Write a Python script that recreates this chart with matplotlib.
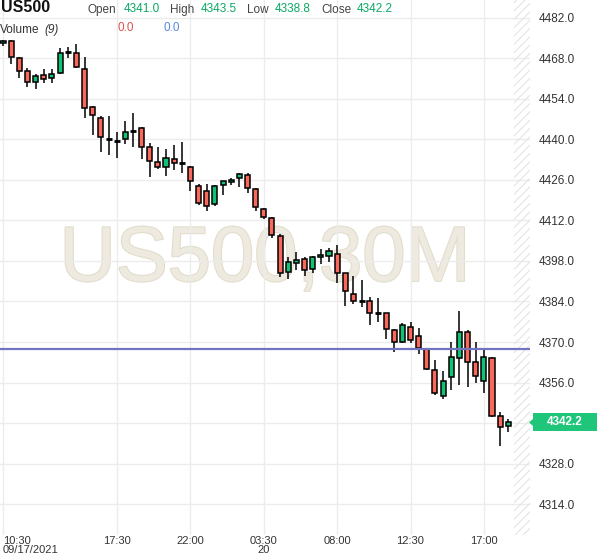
import matplotlib.pyplot as plt
import matplotlib.patheffects as pe
from matplotlib.patches import Rectangle, Polygon

plt.rcParams['font.family'] = ['Liberation Sans', 'DejaVu Sans']
plt.rcParams['hatch.linewidth'] = 0.8

# 30 minute candles, US500
opens = [4473.3, 4474.0, 4468.1, 4463.7, 4460.0, 4462.2, 4461.2, 4462.8, 4470.2, 4469.8,
         4464.3, 4451.2, 4447.3, 4440.3, 4439.6, 4440.1, 4442.9, 4443.9, 4437.3, 4432.1,
         4430.4, 4433.2, 4431.8, 4430.4, 4423.8, 4422.1, 4417.6, 4424.2, 4425.2, 4426.6,
         4427.6, 4422.8, 4415.9, 4412.8, 4406.5, 4394.1, 4397.2, 4398.6, 4395.1, 4399.3,
         4399.6, 4400.3, 4393.8, 4386.5, 4384.3, 4384.1, 4380.1, 4379.9, 4374.0, 4369.9,
         4375.1, 4372.0, 4367.5, 4360.2, 4351.2, 4357.8, 4364.4, 4373.3, 4363.0, 4356.4,
         4364.4, 4344.3, 4341.0]
highs = [4474.4, 4474.3, 4468.6, 4464.8, 4462.5, 4464.3, 4464.4, 4471.5, 4471.8, 4472.9,
         4468.6, 4451.6, 4448.1, 4448.1, 4442.5, 4446.4, 4449.0, 4444.2, 4438.7, 4437.3,
         4436.6, 4438.0, 4439.0, 4430.9, 4424.5, 4424.5, 4424.2, 4425.8, 4426.6, 4428.3,
         4428.3, 4423.1, 4416.2, 4413.1, 4407.2, 4399.3, 4401.0, 4399.3, 4399.6, 4402.0,
         4402.4, 4403.4, 4394.0, 4392.7, 4391.3, 4385.4, 4385.1, 4380.0, 4374.4, 4376.5,
         4376.8, 4374.7, 4367.6, 4363.7, 4359.9, 4369.9, 4380.6, 4374.0, 4369.9, 4367.5,
         4364.7, 4345.7, 4343.5]
lows = [4472.4, 4466.0, 4461.4, 4458.0, 4457.4, 4459.4, 4459.6, 4462.5, 4468.1, 4464.8,
        4447.3, 4441.5, 4435.8, 4434.6, 4433.5, 4438.3, 4437.3, 4433.2, 4426.9, 4429.7,
        4427.3, 4429.4, 4428.3, 4422.1, 4417.3, 4415.2, 4416.9, 4420.7, 4424.2, 4423.5,
        4421.4, 4415.2, 4412.4, 4405.8, 4392.4, 4391.7, 4394.8, 4392.7, 4393.8, 4396.9,
        4397.5, 4390.3, 4382.3, 4383.0, 4382.0, 4375.8, 4376.8, 4371.1, 4366.6, 4369.5,
        4369.5, 4365.7, 4360.2, 4351.6, 4350.2, 4353.3, 4355.0, 4354.5, 4355.7, 4352.3,
        4344.2, 4334.0, 4338.8]
closes = [4474.0, 4468.4, 4463.7, 4459.8, 4461.9, 4460.8, 4462.5, 4469.8, 4470.2, 4465.0,
          4450.9, 4448.4, 4440.8, 4440.3, 4439.6, 4442.5, 4442.9, 4437.3, 4432.5, 4430.4,
          4433.5, 4431.8, 4431.8, 4425.5, 4418.0, 4416.9, 4423.8, 4425.5, 4426.0, 4428.0,
          4423.1, 4416.6, 4413.1, 4406.9, 4393.8, 4397.5, 4398.2, 4394.8, 4399.3, 4400.0,
          4401.3, 4393.8, 4387.5, 4384.1, 4384.3, 4379.9, 4380.1, 4374.4, 4370.1, 4375.8,
          4370.6, 4367.8, 4360.6, 4352.3, 4356.4, 4364.7, 4373.3, 4363.0, 4358.1, 4364.7,
          4344.3, 4340.5, 4342.2]

tick_idx = [0, 14, 23, 32, 41, 50, 59]
tick_labels = ['10:30\n09/17/2021', '17:30', '22:00', '03:30\n20', '08:00', '12:30', '17:00']
price_ticks = [4314 + 14 * k for k in range(13)]
hline_level = 4367.6
last_price = 4342.2

up_col = '#10c276'
down_col = '#f8695c'

fig = plt.figure(figsize=(6, 5.58), dpi=100)
ax = fig.add_axes([0, 1 - 535 / 558, 530 / 600, 535 / 558])
ax.set_xlim(-0.37, 64.66)
ax.set_ylim(4303.3, 4488.2)

# grid
for y in price_ticks:
    ax.axhline(y, color='#ececec', lw=1, zorder=0.5)
for x in tick_idx:
    ax.axvline(x, color='#ececec', lw=1, zorder=0.5)

# hatched future area
ax.axvspan(62.65, 64.66, facecolor='none', edgecolor='#e4e4e4', hatch='////', lw=0, zorder=0.6)

# watermark
ax.text(0.5, 0.475, 'US500,30M', transform=ax.transAxes, ha='center', va='baseline',
        fontsize=56, color='#eeeadf', zorder=0.4,
        path_effects=[pe.withStroke(linewidth=1.5, foreground='#e1dccb')])

# candles
for i, (o, h, l, c) in enumerate(zip(opens, highs, lows, closes)):
    ax.vlines(i, l, h, color='black', lw=1.1, zorder=2)
    if o == c:
        ax.hlines(o, i - 0.36, i + 0.36, color='black', lw=2, zorder=3)
    else:
        col = up_col if c > o else down_col
        ax.bar(i, abs(c - o), bottom=min(o, c), width=0.62, color=col,
               edgecolor='black', linewidth=1.1, zorder=3)

ax.axhline(hline_level, color='#7373c0', lw=1.6, zorder=4)

# axes styling
for s in ax.spines.values():
    s.set_visible(False)
ax.yaxis.tick_right()
ax.set_yticks(price_ticks)
ax.set_yticklabels([f'{v:.1f}' for v in price_ticks])
ax.set_xticks(tick_idx)
ax.set_xticklabels(tick_labels, linespacing=0.8)
ax.tick_params(length=0, labelsize=8.5, colors='#333333')
ax.tick_params(axis='y', pad=6)
ax.tick_params(axis='x', pad=1, labelsize=8)
for lab in ax.get_xticklabels():
    lab.set_va('top')
ax.get_xticklabels()[0].set_ha('left')

# last price tag
W, H = 600, 558
fy = ax.transData.transform((0, last_price))[1] / H
fig.patches.append(Rectangle((533 / W, fy - 9 / H), 64 / W, 18 / H, transform=fig.transFigure,
                             facecolor='#1fc67a', edgecolor='none'))
fig.patches.append(Polygon([(529 / W, fy), (533.5 / W, fy + 4 / H), (533.5 / W, fy - 4 / H)],
                           transform=fig.transFigure, facecolor='#1fc67a', edgecolor='none'))
fig.text(565 / W, fy, f'{last_price:.1f}', color='white', fontsize=8.5, fontweight='bold',
         ha='center', va='center')

# header
def ft(x, y, s, **kw):
    fig.text(x / W, 1 - y / H, s, va='center', **kw)

ft(1, 8, 'US500', fontsize=11.5, fontweight='bold', color='#111111')
ft(88, 10, 'Open', fontsize=8.5, color='#444444')
ft(124, 9, f'{opens[-1]:.1f}', fontsize=8.5, color='#0aa864')
ft(170, 10, 'High', fontsize=8.5, color='#444444')
ft(201, 9, f'{highs[-1]:.1f}', fontsize=8.5, color='#0aa864')
ft(247, 10, 'Low', fontsize=8.5, color='#444444')
ft(275, 9, f'{lows[-1]:.1f}', fontsize=8.5, color='#0aa864')
ft(321, 10, 'Close', fontsize=8.5, color='#444444')
ft(357, 9, f'{closes[-1]:.1f}', fontsize=8.5, color='#0aa864')
ft(0, 30, 'Volume', fontsize=8.5, color='#333333')
ft(44, 30, '(9)', fontsize=8.5, color='#333333', style='italic')
ft(117, 28, '0.0', fontsize=8.5, color='#e05050')
ft(163, 28, '0.0', fontsize=8.5, color='#5588dd')

fig.savefig('out.png', dpi=100)
